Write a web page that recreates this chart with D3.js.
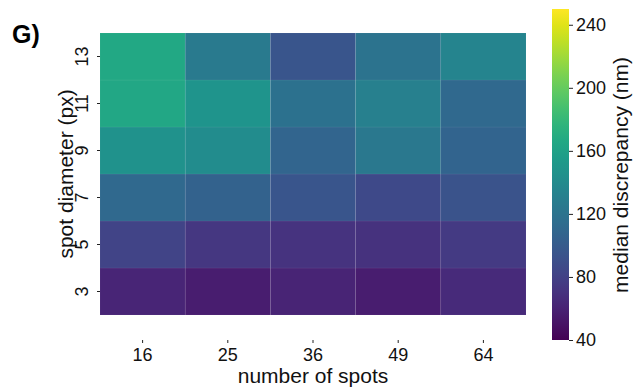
<!DOCTYPE html>
<html>
<head>
<meta charset="utf-8">
<script src="https://cdn.jsdelivr.net/npm/d3@7"></script>
<style>
  body { margin: 0; background: #fff; }
  svg { font-family: Arial, "Liberation Sans", sans-serif; }
</style>
</head>
<body>
<svg id="chart" width="634" height="389"></svg>
<script>
// categories
const spots = [16, 25, 36, 49, 64];
const diameters = [3, 5, 7, 9, 11, 13];
// median discrepancy (nm), one row per spot diameter, columns follow spots
const row3  = [62, 57, 61, 57, 65];
const row5  = [82, 73, 71, 70, 76];
const row7  = [111, 105, 95, 86, 94];
const row9  = [147, 141, 108, 124, 107];
const row11 = [165, 149, 118, 131, 111];
const row13 = [166, 126, 95, 120, 135];
const colorTicks = [40, 80, 120, 160, 200, 240];

const rows = [row3, row5, row7, row9, row11, row13];
const cells = [];
rows.forEach((r, i) => r.forEach((v, j) => cells.push({d: diameters[i], n: spots[j], v: v})));

const svg = d3.select("#chart");
const margin = {top: 33, left: 100};
const width = 426, height = 282;
const g = svg.append("g").attr("transform", `translate(${margin.left},${margin.top})`);

const x = d3.scaleBand().domain(spots).range([0, width]);
const y = d3.scaleBand().domain(diameters).range([height, 0]);
const color = d3.scaleSequential(d3.interpolateViridis).domain([40, 250]);

// heatmap cells
g.selectAll("rect.cell")
  .data(cells)
  .join("rect")
  .attr("class", "cell")
  .attr("x", d => x(d.n))
  .attr("y", d => y(d.d))
  .attr("width", x.bandwidth())
  .attr("height", y.bandwidth())
  .attr("fill", d => color(d.v))
  .attr("stroke", "rgba(255,255,255,0.05)")
  .attr("stroke-width", 1);

// y axis
const yAxis = g.append("g")
  .call(d3.axisLeft(y).tickSize(3).tickPadding(3))
  .call(a => a.select(".domain").remove());
yAxis.selectAll(".tick line").attr("stroke", "#222");
yAxis.selectAll(".tick text")
  .attr("font-size", 18)
  .attr("fill", "#111")
  .attr("transform", "rotate(-90)")
  .attr("x", 0)
  .attr("y", -18)
  .attr("dy", "0.35em")
  .style("text-anchor", "middle");

// x axis, detached below the map
const xAxis = g.append("g")
  .attr("transform", `translate(0,${height + 25})`)
  .call(d3.axisBottom(x).tickSize(3).tickPadding(5))
  .call(a => a.select(".domain").remove());
xAxis.selectAll(".tick line").attr("stroke", "#222");
xAxis.selectAll(".tick text").attr("font-size", 18).attr("fill", "#111");

// axis titles
g.append("text")
  .attr("x", width / 2)
  .attr("y", height + 68)
  .attr("text-anchor", "middle")
  .attr("font-size", 21)
  .attr("fill", "#111")
  .text("number of spots");

g.append("text")
  .attr("transform", "rotate(-90)")
  .attr("x", -height / 2)
  .attr("y", -27)
  .attr("text-anchor", "middle")
  .attr("font-size", 21)
  .attr("fill", "#111")
  .text("spot diameter (px)");

// panel label
svg.append("text")
  .attr("x", 12)
  .attr("y", 43)
  .attr("font-size", 25)
  .attr("font-weight", "bold")
  .text("G)");

// colour bar
const cbX = 552, cbW = 17, cbTop = 9, cbBottom = 340;
const cy = d3.scaleLinear().domain([40, 250]).range([cbBottom, cbTop]);

const grad = svg.append("defs").append("linearGradient")
  .attr("id", "viridis")
  .attr("x1", "0%").attr("y1", "100%")
  .attr("x2", "0%").attr("y2", "0%");
d3.range(0, 1.0001, 0.05).forEach(t => {
  grad.append("stop")
    .attr("offset", `${t * 100}%`)
    .attr("stop-color", d3.interpolateViridis(t));
});

svg.append("rect")
  .attr("x", cbX)
  .attr("y", cbTop)
  .attr("width", cbW)
  .attr("height", cbBottom - cbTop)
  .attr("fill", "url(#viridis)");

const cAxis = svg.append("g")
  .attr("transform", `translate(${cbX + cbW},0)`)
  .call(d3.axisRight(cy).tickValues(colorTicks).tickSize(4).tickPadding(3))
  .call(a => a.select(".domain").remove());
cAxis.selectAll(".tick line").attr("stroke", "#222");
cAxis.selectAll(".tick text").attr("font-size", 18).attr("fill", "#111");

svg.append("text")
  .attr("transform", "rotate(-90)")
  .attr("x", -175)
  .attr("y", 628)
  .attr("text-anchor", "middle")
  .attr("font-size", 21)
  .attr("fill", "#111")
  .text("median discrepancy (nm)");
</script>
</body>
</html>
